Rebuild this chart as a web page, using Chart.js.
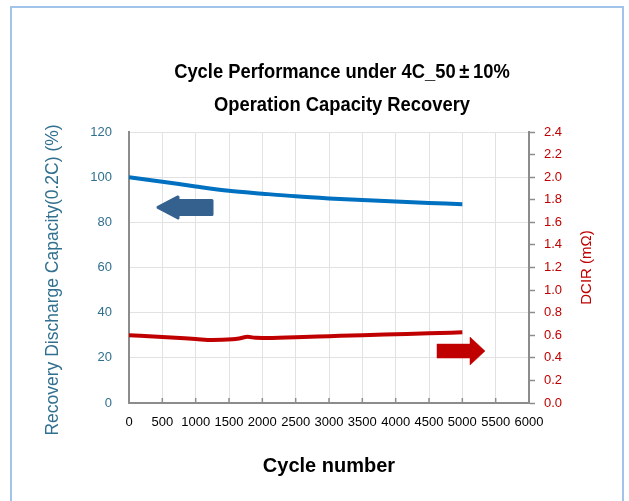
<!DOCTYPE html>
<html lang="en">

<head>
  <meta charset="UTF-8">
  <script src="https://cdn.jsdelivr.net/npm/chart.js"></script>
  <title>Cycle Performance</title>
  <style>
    body {
      margin: 0;
      padding: 0;
      background-color: #fff;
    }

    #wrap {
      width: 629px;
      height: 501px;
    }
  </style>
</head>

<body>
  <div id="wrap"><canvas id="cycleChart"></canvas></div>

  <script>
    const titleLines = ['Cycle Performance under 4C_50\u2009\u00B1\u200910%', 'Operation Capacity Recovery'];
    const leftTitle = 'Recovery Discharge Capacity(0.2C) (%)';
    const rightTitle = 'DCIR (m\u03A9)';

    const capacityCycles = [0, 500, 1000, 1500, 2000, 2500, 3000, 3500, 4000, 4500, 5000];
    const capacity = [100, 98.0, 95.9, 94.0, 92.7, 91.5, 90.6, 89.9, 89.2, 88.6, 88.0];

    const dcirCycles = [0, 500, 1000, 1250, 1550, 1650, 1780, 1900, 2000, 2500, 3000, 3500, 4000, 4500, 5000];
    const dcir = [0.600, 0.585, 0.567, 0.558, 0.565, 0.572, 0.586, 0.577, 0.576, 0.583, 0.592, 0.601, 0.609, 0.617, 0.626];

    const blueColor = '#0070c0';
    const redColor = '#c00000';
    const tealColor = '#31708f';

    // turn two arrays into {x, y} points
    function toPoints(xs, ys) {
      return xs.map((x, i) => ({ x: x, y: ys[i] }));
    }

    function drawRotated(ctx, text, cx, cy, font, color) {
      ctx.save();
      ctx.fillStyle = color;
      ctx.font = font;
      ctx.textAlign = 'center';
      ctx.textBaseline = 'middle';
      ctx.translate(cx, cy);
      ctx.rotate(-Math.PI / 2);
      ctx.fillText(text, 0, 0);
      ctx.restore();
    }

    // frame, titles, arrows, small inside ticks on x axis
    const decorPlugin = {
      id: 'decor',
      beforeDraw(chart) {
        const ctx = chart.ctx;
        ctx.save();
        ctx.fillStyle = '#fff';
        ctx.fillRect(0, 0, chart.width, chart.height);
        ctx.strokeStyle = '#a3c4ea';
        ctx.lineWidth = 2;
        ctx.beginPath();
        ctx.moveTo(11, chart.height);
        ctx.lineTo(11, 7);
        ctx.lineTo(623, 7);
        ctx.lineTo(623, chart.height);
        ctx.stroke();
        ctx.restore();
      },
      afterDraw(chart) {
        const ctx = chart.ctx;
        const x = chart.scales.x;
        const yL = chart.scales.y;
        const yR = chart.scales.y1;
        const area = chart.chartArea;

        // title, slightly condensed
        ctx.save();
        ctx.fillStyle = '#000';
        ctx.font = 'bold 20px "Liberation Sans", Arial, sans-serif';
        ctx.textAlign = 'center';
        ctx.textBaseline = 'alphabetic';
        const sx = 256 / ctx.measureText(titleLines[1]).width;
        ctx.translate(342, 0);
        ctx.scale(sx, 1);
        ctx.fillText(titleLines[0], 0, 78);
        ctx.fillText(titleLines[1], 0, 111);
        ctx.restore();

        // axis titles, reading bottom to top
        drawRotated(ctx, leftTitle, 53, 280, '17.5px "Liberation Sans", Arial, sans-serif', tealColor);
        drawRotated(ctx, rightTitle, 587, (area.top + area.bottom) / 2, '15px "Liberation Sans", Arial, sans-serif', redColor);

        // inside tick marks on x axis
        ctx.save();
        ctx.strokeStyle = '#8c8c8c';
        ctx.lineWidth = 1.5;
        x.ticks.forEach((t, i) => {
          const px = x.getPixelForTick(i);
          ctx.beginPath();
          ctx.moveTo(px, x.top);
          ctx.lineTo(px, x.top - 5);
          ctx.stroke();
        });
        ctx.restore();

        // blue arrow pointing left (capacity axis)
        drawArrow(ctx, x.getPixelForValue(1245), x.getPixelForValue(435), yL.getPixelForValue(86.6), 14, 21, 20, '#35618f', true);
        // red arrow pointing right (DCIR axis)
        drawArrow(ctx, x.getPixelForValue(4620), x.getPixelForValue(5340), yR.getPixelForValue(0.46), 14, 28, 15, redColor, false);
      }
    };

    function drawArrow(ctx, tail, tip, cy, bodyH, headH, headL, color, rounded) {
      const dir = tip > tail ? 1 : -1;
      const neck = tip - dir * headL;
      ctx.save();
      ctx.fillStyle = color;
      ctx.strokeStyle = color;
      ctx.lineJoin = rounded ? 'round' : 'miter';
      ctx.lineWidth = rounded ? 3 : 0.5;
      ctx.beginPath();
      ctx.moveTo(tail, cy - bodyH / 2);
      ctx.lineTo(neck, cy - bodyH / 2);
      ctx.lineTo(neck, cy - headH / 2);
      ctx.lineTo(tip, cy);
      ctx.lineTo(neck, cy + headH / 2);
      ctx.lineTo(neck, cy + bodyH / 2);
      ctx.lineTo(tail, cy + bodyH / 2);
      ctx.closePath();
      ctx.fill();
      ctx.stroke();
      ctx.restore();
    }

    const ctx = document.getElementById('cycleChart').getContext('2d');

    new Chart(ctx, {
      type: 'line',
      data: {
        datasets: [{
          label: 'Recovery Capacity',
          data: toPoints(capacityCycles, capacity),
          borderColor: blueColor,
          borderWidth: 4,
          pointRadius: 0,
          cubicInterpolationMode: 'monotone',
          yAxisID: 'y'
        }, {
          label: 'DCIR',
          data: toPoints(dcirCycles, dcir),
          borderColor: redColor,
          borderWidth: 4,
          pointRadius: 0,
          cubicInterpolationMode: 'monotone',
          yAxisID: 'y1'
        }]
      },
      options: {
        responsive: true,
        maintainAspectRatio: false,
        animation: false,
        layout: {
          padding: { top: 132, left: 0, right: 0, bottom: 0 }
        },
        plugins: {
          legend: { display: false },
          tooltip: { enabled: false }
        },
        scales: {
          x: {
            type: 'linear',
            min: 0,
            max: 6000,
            afterFit(scale) { scale.height = 98; },
            ticks: {
              stepSize: 500,
              color: '#000',
              padding: 12,
              maxRotation: 0,
              autoSkip: false,
              callback: v => String(v),
              font: { family: '"Liberation Sans", Arial', size: 13 }
            },
            grid: { color: '#e2e2e2', lineWidth: 1, drawTicks: false },
            border: { color: '#8c8c8c', width: 2 },
            title: {
              display: true,
              text: 'Cycle number',
              color: '#000',
              font: { family: '"Liberation Sans", Arial', size: 20, weight: 'bold' },
              padding: { top: 0, bottom: 23 }
            }
          },
          y: {
            position: 'left',
            min: 0,
            max: 120,
            afterFit(scale) { scale.width = 129; },
            ticks: {
              stepSize: 20,
              color: tealColor,
              padding: 17,
              font: { family: '"Liberation Sans", Arial', size: 13 }
            },
            grid: { color: '#e2e2e2', lineWidth: 1, drawTicks: false },
            border: { color: '#8c8c8c', width: 2 }
          },
          y1: {
            position: 'right',
            min: 0,
            max: 2.4,
            afterFit(scale) { scale.width = 100; },
            ticks: {
              stepSize: 0.2,
              color: redColor,
              padding: 9,
              callback: v => v.toFixed(1),
              font: { family: '"Liberation Sans", Arial', size: 13 }
            },
            grid: { drawOnChartArea: false, tickLength: 6, tickColor: '#8c8c8c', tickWidth: 1.5 },
            border: { color: '#8c8c8c', width: 2 }
          }
        }
      },
      plugins: [decorPlugin]
    });
  </script>
</body>

</html>
